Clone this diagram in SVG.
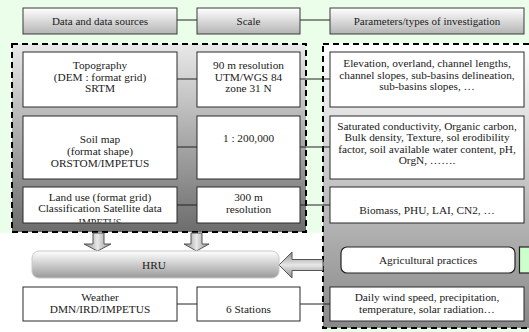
<svg xmlns="http://www.w3.org/2000/svg" width="529" height="332" viewBox="0 0 529 332">
<defs>
<linearGradient id="hdr" x1="0" y1="0" x2="0" y2="1"><stop offset="0" stop-color="#ffffff"/><stop offset="1" stop-color="#b4b4b4"/></linearGradient>
<linearGradient id="leftPanel" x1="0" y1="0" x2="0" y2="1"><stop offset="0" stop-color="#e9e9e9"/><stop offset="1" stop-color="#6c6c6c"/></linearGradient>
<linearGradient id="rightPanel" x1="0" y1="0" x2="0" y2="1"><stop offset="0" stop-color="#ffffff"/><stop offset="1" stop-color="#878787"/></linearGradient>
<linearGradient id="hru" x1="0" y1="0" x2="0" y2="1"><stop offset="0" stop-color="#ffffff"/><stop offset="1" stop-color="#9a9a9a"/></linearGradient>
<linearGradient id="arrV" x1="0" y1="0" x2="1" y2="0"><stop offset="0" stop-color="#8a8a8a"/><stop offset="0.5" stop-color="#e8e8e8"/><stop offset="1" stop-color="#8a8a8a"/></linearGradient>
<linearGradient id="arrH" x1="0" y1="0" x2="0" y2="1"><stop offset="0" stop-color="#8a8a8a"/><stop offset="0.5" stop-color="#e8e8e8"/><stop offset="1" stop-color="#8a8a8a"/></linearGradient>
<clipPath id="clipLand"><rect x="23" y="187" width="154" height="35.5"/></clipPath>
</defs>
<style>
text{font-family:'Liberation Serif','Times New Roman',serif;font-size:11.3px;fill:#1a1a1a;text-anchor:middle}
.hdrt{font-size:11px}
.hdr{fill:url(#hdr);stroke:#3a3a3a;stroke-width:1}
.box{fill:#ffffff;stroke:#2a2a2a;stroke-width:1}
.dash{stroke:#000;stroke-width:2;stroke-dasharray:6,4}
.conn{stroke:#222;stroke-width:1;fill:none}
.arr{stroke:#555;stroke-width:1}
</style>
<rect x="0" y="0" width="529" height="332" fill="#eafeea"/>
<rect x="0" y="233" width="323" height="99" fill="#ffffff"/>
<g id="panel-left"><rect x="12" y="44" width="294" height="188" fill="url(#leftPanel)" class="dash"/></g>
<g id="panel-right"><rect x="323" y="44" width="215" height="284" fill="url(#rightPanel)" class="dash"/></g>
<g id="connectors">
<line class="conn" x1="177" y1="20" x2="197" y2="20"/>
<line class="conn" x1="300" y1="20" x2="330" y2="20"/>
<line class="conn" x1="177" y1="79" x2="197" y2="79"/>
<line class="conn" x1="300" y1="79" x2="330" y2="79"/>
<line class="conn" x1="177" y1="147" x2="197" y2="147"/>
<line class="conn" x1="300" y1="147" x2="330" y2="147"/>
<line class="conn" x1="177" y1="205" x2="197" y2="205"/>
<line class="conn" x1="300" y1="205" x2="330" y2="205"/>
<line class="conn" x1="177" y1="304" x2="197" y2="304"/>
<line class="conn" x1="300" y1="304" x2="330" y2="304"/>
<path class="arr" fill="url(#arrV)" d="M93,233 H104 V244 H111 L97.5,251 L84,244 H93 Z"/>
<path class="arr" fill="url(#arrV)" d="M191,233 H202 V244 H209 L196.5,251 L184,244 H191 Z"/>
<path class="arr" fill="url(#arrH)" d="M323,259.5 V270.5 H292 V278 L279,265 L292,252 V259.5 Z"/>
</g>
<g id="hdr-data"><rect class="hdr" x="23" y="8" width="154" height="26"/><text class="hdrt" x="100" y="24.5">Data and data sources</text></g>
<g id="hdr-scale"><rect class="hdr" x="197" y="8" width="103" height="26"/><text class="hdrt" x="248.5" y="24.5">Scale</text></g>
<g id="hdr-params"><rect class="hdr" x="330" y="8" width="194" height="26"/><text class="hdrt" x="427" y="24.5">Parameters/types of investigation</text></g>
<g id="topo"><rect class="box" x="23" y="52" width="154" height="55"/><text x="100" y="69">Topography</text><text x="100" y="80.5">(DEM : format grid)</text><text x="100" y="92">SRTM</text></g>
<g id="topo-scale"><rect class="box" x="197" y="52" width="103" height="55"/><text x="248.5" y="69">90 m resolution</text><text x="248.5" y="80.5">UTM/WGS 84</text><text x="248.5" y="92">zone 31 N</text></g>
<g id="topo-params"><rect class="box" x="330" y="52" width="194" height="55"/><text x="427" y="67">Elevation, overland, channel lengths,</text><text x="427" y="78.5">channel slopes, sub-basins delineation,</text><text x="427" y="90">sub-basins slopes, …</text></g>
<g id="soil"><rect class="box" x="23" y="116" width="154" height="63"/><text x="100" y="143">Soil map</text><text x="100" y="155">(format shape)</text><text x="100" y="167">ORSTOM/IMPETUS</text></g>
<g id="soil-scale"><rect class="box" x="197" y="116" width="103" height="63"/><text x="248.5" y="142">1 : 200,000</text></g>
<g id="soil-params"><rect class="box" x="330" y="116" width="194" height="63"/><text x="427" y="129.5">Saturated conductivity, Organic carbon,</text><text x="427" y="141">Bulk density, Texture, sol erodibility</text><text x="427" y="152.5">factor, soil available water content, pH,</text><text x="427" y="164">OrgN, …….</text></g>
<g id="landuse"><rect class="box" x="23" y="187" width="154" height="36"/><g clip-path="url(#clipLand)"><text x="100" y="200.5">Land use (format grid)</text><text x="100" y="212">Classification Satellite data</text><text x="100" y="226" style="font-size:10px">IMPETUS</text></g></g>
<g id="landuse-scale"><rect class="box" x="197" y="187" width="103" height="36"/><text x="248.5" y="201">300 m</text><text x="248.5" y="213">resolution</text></g>
<g id="landuse-params"><rect class="box" x="330" y="187" width="194" height="36"/><text x="427" y="214">Biomass, PHU, LAI, CN2, …</text></g>
<g id="hru-node"><rect x="32" y="251" width="247" height="27" rx="7" fill="url(#hru)" stroke="#c8c8c8" stroke-width="1"/><text x="154" y="268.5">HRU</text></g>
<g id="agri"><rect x="341" y="247" width="174" height="26" rx="6" fill="#ffffff" stroke="#222" stroke-width="1.2"/><text x="428" y="263.5">Agricultural practices</text></g>
<g id="green-box"><rect x="519.5" y="247" width="16" height="26" fill="#ccffcc" stroke="#222" stroke-width="1.2"/></g>
<g id="weather"><rect class="box" x="23" y="287" width="154" height="34"/><text x="100" y="300.5">Weather</text><text x="100" y="312.5">DMN/IRD/IMPETUS</text></g>
<g id="weather-scale"><rect class="box" x="197" y="287" width="103" height="34"/><text x="248.5" y="312.5">6 Stations</text></g>
<g id="weather-params"><rect class="box" x="330" y="287" width="194" height="34"/><text x="427" y="300.5">Daily wind speed, precipitation,</text><text x="427" y="312.5">temperature, solar radiation…</text></g>
</svg>
